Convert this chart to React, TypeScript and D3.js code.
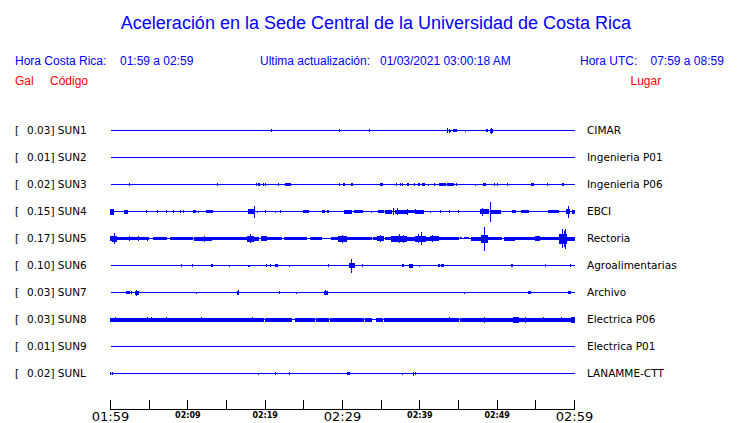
import React from "react";
import * as d3 from "d3";

// ---- Data ----
const stations = ["SUN1", "SUN2", "SUN3", "SUN4", "SUN5", "SUN6", "SUN7", "SUN8", "SUN9", "SUNL"];
const galValues = ["0.03", "0.01", "0.02", "0.15", "0.17", "0.10", "0.03", "0.03", "0.01", "0.02"];
const places = [
  "CIMAR",
  "Ingenieria P01",
  "Ingenieria P06",
  "EBCI",
  "Rectoria",
  "Agroalimentarias",
  "Archivo",
  "Electrica P06",
  "Electrica P01",
  "LANAMME-CTT",
];

// time in minutes after 01:59 ; [start, end, amplitude]
type Ev = [number, number, number];

const sun1: Ev[] = [
  [20.8, 20.8, 1.5], [29.6, 29.6, 1.5], [33.5, 33.5, 1.5], [43.6, 43.6, 2.5], [43.8, 43.8, 2],
  [44.0, 44.0, 1], [44.4, 44.8, 1.5], [45.9, 45.9, 1], [48.6, 48.6, 1.5], [48.8, 48.8, 1.5],
  [49.1, 49.4, 2], [49.3, 49.3, 3],
];
const sun2: Ev[] = [];
const sun3: Ev[] = [
  [2.4, 2.4, 1.5], [13.9, 13.9, 1.5], [18.9, 18.9, 1.5], [19.1, 19.1, 1.5], [19.3, 19.3, 1.5],
  [19.8, 19.8, 1.5], [20.1, 20.1, 1.5], [21.7, 21.7, 1.5], [22.6, 23.3, 1.5], [29.6, 29.6, 1.5],
  [30.1, 30.3, 1.5], [31.1, 31.1, 1.5], [31.3, 31.3, 1.5], [34.9, 35.2, 1.5], [36.96, 36.96, 1.5],
  [37.5, 37.5, 1.5], [37.8, 37.8, 1.5], [38.4, 38.5, 1.5], [39.3, 39.3, 1.5], [39.8, 40.0, 1.5],
  [40.4, 40.6, 1.5], [41.1, 41.1, 1], [41.96, 41.96, 1.5], [42.6, 43.3, 1.5], [43.6, 44.3, 1.5],
  [44.4, 44.4, 1.5], [44.7, 44.7, 1.5], [47.2, 47.2, 1], [48.2, 48.5, 1.5], [49.6, 49.6, 1.5],
  [50.0, 50.0, 1.5], [51.3, 51.3, 1.5], [54.5, 54.7, 1.5], [56.5, 56.5, 1.3], [58.4, 58.6, 1.5],
];
const sun4: Ev[] = [
  [0, 0.4, 3], [1.8, 2.2, 2], [4.6, 4.6, 1.5], [6.1, 6.1, 1.5], [7.2, 7.2, 1.7], [8.1, 8.1, 1.3],
  [9.1, 9.1, 1.3], [9.4, 9.4, 1.3], [10.7, 11.0, 1.3], [11.4, 11.4, 1], [12.4, 13.2, 1.5],
  [17.8, 18.5, 2.5], [18.6, 18.6, 6], [19.0, 19.0, 1], [20.1, 20.1, 1.5], [21.3, 21.3, 1],
  [22.0, 22.0, 1.3], [25.0, 25.2, 1.3], [25.4, 25.6, 1.3], [27.4, 27.7, 1.3], [28.0, 28.2, 1.3],
  [30.3, 31.2, 2], [31.5, 32.6, 1.5], [33.7, 33.7, 1], [34.6, 35.3, 1.5], [35.5, 36.4, 2],
  [36.6, 36.6, 3.5], [36.8, 38.3, 2], [37.1, 37.1, 3.5], [38.4, 38.4, 3], [38.5, 39.4, 1.5],
  [39.4, 39.4, 2.5], [39.5, 40.5, 1.8], [41.4, 41.4, 1], [42.7, 42.7, 1.3], [43.9, 43.9, 1.3],
  [45.0, 45.0, 1.3], [47.9, 48.1, 2.5], [48.1, 48.1, 4], [48.2, 48.9, 2.5], [49.2, 49.2, 10],
  [49.3, 50.4, 2], [52.0, 52.4, 1.5], [53.2, 54.0, 1.3], [56.6, 57.9, 1.5], [59.0, 59.3, 2.5],
  [59.2, 59.2, 6], [59.8, 60, 2],
];
const sun5: Ev[] = [
  [0, 0.2, 2.5], [0.2, 0.8, 3], [0.5, 0.5, 5.5], [0.8, 4.9, 1.5], [2.4, 2.4, 2.5], [3.6, 3.6, 2.5],
  [4.8, 4.8, 2], [5.5, 7.3, 1.5], [7.8, 9.0, 1.5], [9.2, 10.6, 1.5], [10.9, 13.1, 1.8],
  [12.2, 12.2, 3], [13.1, 14.2, 1.5], [14.4, 15.5, 1.5], [15.7, 17.6, 1.5], [17.7, 18.5, 3],
  [18.1, 18.1, 4.5], [18.5, 19.1, 2], [19.5, 20.2, 2.5], [20.2, 22.1, 1.5], [22.5, 25.4, 1.5],
  [25.8, 27.3, 1.5], [28.6, 29.5, 1.5], [29.5, 30.5, 3], [30.0, 30.0, 4], [30.5, 33.8, 1.5],
  [34.0, 34.4, 1.5], [34.5, 35.3, 2.5], [34.9, 34.9, 3.5], [35.5, 36.3, 1.5], [36.4, 36.8, 3],
  [37.0, 38.3, 3], [37.4, 37.4, 4.5], [37.9, 37.9, 4], [38.3, 39.4, 2], [39.5, 40.7, 3],
  [39.8, 39.8, 4.5], [40.2, 40.2, 6.5], [40.7, 41.3, 2], [41.4, 42.4, 2.5], [41.7, 41.7, 3.5],
  [42.4, 45.0, 1.5], [45.2, 45.4, 1.2], [45.8, 46.3, 1.2], [46.7, 48.0, 2], [48.0, 48.8, 4],
  [48.4, 48.4, 12], [48.8, 50.6, 1.5], [51.0, 52.3, 2], [52.3, 54.9, 1.5], [54.9, 55.5, 2.5],
  [55.5, 57.9, 1.5], [58.1, 59.0, 5], [58.4, 58.4, 9.5], [58.7, 58.7, 8], [58.9, 58.9, 10],
  [59.0, 60, 2],
];
const sun6: Ev[] = [
  [9.2, 9.2, 1.5], [10.6, 10.6, 1.3], [13.0, 13.2, 1.5], [15.4, 15.4, 0.8], [17.8, 18.0, 1],
  [20.2, 20.2, 1.5], [20.7, 20.7, 1.5], [21.4, 21.6, 1.5], [23.1, 23.1, 0.8], [28.2, 28.2, 1.5],
  [30.9, 31.5, 2.5], [31.2, 31.2, 7], [32.6, 32.6, 1.5], [37.7, 37.9, 1.5], [38.7, 39.1, 2],
  [39.9, 39.9, 0.8], [42.4, 42.6, 1.5], [42.8, 43.0, 1.5], [51.8, 52.0, 1.5], [56.3, 56.3, 1.3],
  [59.5, 59.5, 1.3],
];
const sun7: Ev[] = [
  [2.1, 2.5, 1.5], [2.7, 2.7, 1.5], [3.2, 3.6, 1.8], [3.4, 3.4, 3], [11.1, 11.1, 0.8],
  [16.4, 16.6, 1.8], [16.5, 16.5, 2.5], [21.9, 21.9, 1.3], [24.0, 24.0, 0.8], [27.7, 28.0, 1.8],
  [27.8, 27.8, 2.5], [45.8, 45.8, 0.8], [54.1, 54.3, 1.5], [59.2, 59.5, 1.5],
];
const sun8: Ev[] = [
  [0, 19.8, 2], [20.0, 23.4, 2], [23.9, 26.4, 2], [26.7, 28.2, 2], [28.4, 29.2, 2], [29.3, 29.6, 2],
  [29.8, 32.7, 2], [33.0, 33.8, 2], [34.4, 35.2, 2], [35.4, 36.7, 2], [36.9, 45.0, 2], [45.2, 60, 2],
  [0.6, 0.6, 2.5], [4.8, 4.8, 2.5], [5.3, 5.3, 2.5], [7.3, 7.3, 2.5], [11.8, 11.8, 2.5],
  [18.4, 18.4, 2.5], [43.8, 43.8, 2.5], [48.3, 48.3, 3], [52.1, 52.7, 3], [53.6, 53.6, 3],
  [55.97, 55.97, 2.5], [58.3, 58.3, 2.5], [59.6, 60, 3],
];
const sun9: Ev[] = [];
const sunl: Ev[] = [
  [0.02, 0.02, 1.5], [0.2, 0.2, 1.5], [19.2, 19.2, 0.8], [21.4, 21.4, 1.3], [23.1, 23.1, 1.3],
  [30.6, 30.9, 1.3], [37.7, 37.7, 0.8], [39.2, 39.2, 2], [39.5, 39.5, 1.5],
];
const traces: Ev[][] = [sun1, sun2, sun3, sun4, sun5, sun6, sun7, sun8, sun9, sunl];

const tickMinutes = [0, 5, 10, 15, 20, 25, 30, 35, 40, 45, 50, 55, 60];
const majorLabels: [number, string][] = [[0, "01:59"], [30, "02:29"], [60, "02:59"]];
const minorLabels: [number, string][] = [[10, "02:09"], [20, "02:19"], [40, "02:39"], [50, "02:49"]];

const BLUE = "#0000ff";
const RED = "#ff0000";

export default function App() {
  const x = d3.scaleLinear().domain([0, 60]).range([110.5, 574.5]);
  const row = d3.scaleLinear().domain([0, stations.length - 1]).range([130.5, 373.5]);
  const amp = d3.scaleLinear().domain([0, 1]).range([0, 1]);
  const axisY = 409.5;
  const sans = "'Liberation Sans', Arial, sans-serif";
  const dj = "'DejaVu Sans', sans-serif";

  return (
    <svg
      width={740}
      height={423}
      style={{ position: "absolute", left: 0, top: 0, background: "#fff" }}
    >
      <rect x={0} y={0} width={740} height={423} fill="#fff" />
      <text x={376} y={29} textAnchor="middle" fontFamily={sans} fontSize={18} fill={BLUE}>
        Aceleración en la Sede Central de la Universidad de Costa Rica
      </text>
      <g fontFamily={sans} fontSize={12} fill={BLUE}>
        <text x={15} y={65}>Hora Costa Rica:</text>
        <text x={120} y={65}>01:59 a 02:59</text>
        <text x={260} y={65}>Ultima actualización:</text>
        <text x={380} y={65}>01/03/2021 03:00:18 AM</text>
        <text x={580} y={65}>Hora UTC:</text>
        <text x={650.5} y={65}>07:59 a 08:59</text>
      </g>
      <g fontFamily={sans} fontSize={12} fill={RED}>
        <text x={15} y={85}>Gal</text>
        <text x={50} y={85}>Código</text>
        <text x={630.5} y={85}>Lugar</text>
      </g>

      {stations.map((s, i) => {
        const cy = row(i);
        return (
          <g key={s}>
            <text x={15} y={cy + 3.5} fontFamily={dj} fontSize={10.5} fill="#000">[</text>
            <text x={27} y={cy + 3.5} fontFamily={dj} fontSize={10.5} fill="#000">
              {galValues[i] + "] " + s}
            </text>
            <text x={587} y={cy + 3.5} fontFamily={dj} fontSize={10.5} fill="#000">
              {places[i]}
            </text>
            <line x1={x(0)} x2={x(60)} y1={cy} y2={cy} stroke={BLUE} strokeWidth={1} shapeRendering="crispEdges" />
            {traces[i].map((e, j) => {
              const x0 = Math.floor(x(e[0]));
              const x1 = Math.floor(x(e[1]));
              const a = amp(e[2]);
              return (
                <rect
                  key={j}
                  x={x0}
                  y={Math.round(cy - a)}
                  width={Math.max(1, x1 - x0 + 1)}
                  height={Math.max(1, Math.round(2 * a))}
                  fill={BLUE}
                  shapeRendering="crispEdges"
                />
              );
            })}
          </g>
        );
      })}

      <g stroke="#000" strokeWidth={1} shapeRendering="crispEdges">
        <line x1={x(0)} x2={x(60)} y1={axisY} y2={axisY} />
        {tickMinutes.map((t) => (
          <line key={t} x1={Math.floor(x(t)) + 0.5} x2={Math.floor(x(t)) + 0.5} y1={400} y2={axisY} />
        ))}
      </g>
      <g fontFamily={dj} fill="#000" textAnchor="middle">
        {majorLabels.map(([t, l]) => (
          <text key={l} x={x(t)} y={421} fontSize={13}>{l}</text>
        ))}
        {minorLabels.map(([t, l]) => (
          <text key={l} x={x(t)} y={418} fontSize={8} fontWeight="bold">{l}</text>
        ))}
      </g>
    </svg>
  );
}
